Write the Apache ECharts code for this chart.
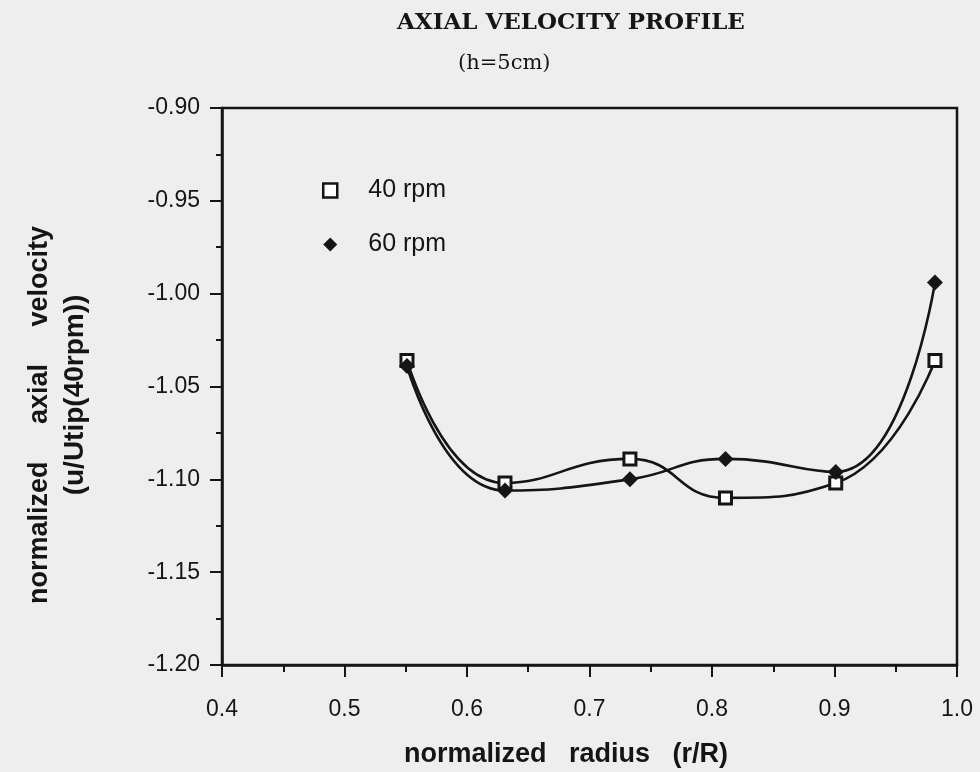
<!DOCTYPE html>
<html>
<head>
<meta charset="utf-8">
<script src="https://cdn.jsdelivr.net/npm/echarts@6/dist/echarts.min.js"></script>
<style>
  html, body { margin: 0; padding: 0; background: #eeeeee; }
  #chart { width: 980px; height: 772px; }
</style>
</head>
<body>
<div id="chart"></div>
<script>
// ---- data ----
var radius = [0.551, 0.631, 0.733, 0.811, 0.901, 0.982];
var rpm40 = [-1.036, -1.102, -1.089, -1.110, -1.102, -1.036];
var rpm60 = [-1.039, -1.106, -1.100, -1.089, -1.096, -0.994];
var seriesNames = ['40 rpm', '60 rpm'];
var xTicks = [0.4, 0.5, 0.6, 0.7, 0.8, 0.9, 1.0];
var yTicks = [-1.20, -1.15, -1.10, -1.05, -1.00, -0.95, -0.90];

function pairs(xs, ys) { return xs.map(function (x, i) { return [x, ys[i]]; }); }

var ink = '#151515';
var chart = echarts.init(document.getElementById('chart'), null, { renderer: 'canvas' });
chart.setOption({
  backgroundColor: '#eeeeee',
  animation: false,
  title: [
    { text: 'AXIAL VELOCITY PROFILE', left: 392, top: 7,
      textStyle: { fontFamily: 'DejaVu Serif', fontWeight: 'bold', fontSize: 23, color: ink } },
    { text: '(h=5cm)', left: 453, top: 48,
      textStyle: { fontFamily: 'DejaVu Serif', fontWeight: 'normal', fontSize: 21, color: ink } }
  ],
  grid: { left: 222, right: 23, top: 108, bottom: 107, show: true, borderColor: ink, borderWidth: 2.5, backgroundColor: 'transparent' },
  legend: {
    orient: 'vertical', left: 317, top: 173, itemGap: 29, itemWidth: 14, itemHeight: 14,
    textStyle: { fontFamily: 'Liberation Sans', fontSize: 25, color: ink, padding: [0, 0, 0, 26] },
    data: [
      { name: seriesNames[0], icon: 'rect', itemStyle: { color: '#ffffff', borderColor: ink, borderWidth: 2.5 } },
      { name: seriesNames[1], icon: 'diamond', itemStyle: { color: ink, borderWidth: 0 } }
    ]
  },
  xAxis: {
    type: 'value', min: xTicks[0], max: xTicks[xTicks.length - 1], interval: 0.1,
    axisLine: { show: true, lineStyle: { color: ink, width: 2.5 } },
    axisTick: { show: true, inside: false, length: 12, lineStyle: { color: ink, width: 2 } },
    minorTick: { show: true, splitNumber: 2, length: 7, lineStyle: { color: ink, width: 2 } },
    splitLine: { show: false },
    axisLabel: { margin: 33, fontFamily: 'Liberation Sans', fontSize: 23, color: ink,
      formatter: function (v) { return v.toFixed(1); } }
  },
  yAxis: {
    type: 'value', min: yTicks[0], max: yTicks[yTicks.length - 1], interval: 0.05,
    axisLine: { show: true, lineStyle: { color: ink, width: 2.5 } },
    axisTick: { show: true, inside: false, length: 12, lineStyle: { color: ink, width: 2 } },
    minorTick: { show: true, splitNumber: 2, length: 6, lineStyle: { color: ink, width: 2 } },
    splitLine: { show: false },
    axisLabel: { margin: 22, fontFamily: 'Liberation Sans', fontSize: 23, color: ink,
      formatter: function (v) { return v.toFixed(2); } }
  },
  graphic: [
    { type: 'text', x: 566, y: 755, silent: true,
      style: { text: 'normalized   radius   (r/R)', font: 'bold 27px "Liberation Sans"', fill: ink, textAlign: 'center', textVerticalAlign: 'middle' } },
    { type: 'text', x: 40, y: 415, rotation: Math.PI / 2, silent: true,
      style: { text: 'normalized     axial     velocity', font: 'bold 27px "Liberation Sans"', fill: ink, textAlign: 'center', textVerticalAlign: 'middle' } },
    { type: 'text', x: 75, y: 395, rotation: Math.PI / 2, silent: true,
      style: { text: '(u/Utip(40rpm))', font: 'bold 28px "Liberation Sans"', fill: ink, textAlign: 'center', textVerticalAlign: 'middle' } }
  ],
  series: [
    { name: seriesNames[0], type: 'line', data: pairs(radius, rpm40), smooth: 0.5,
      symbol: 'rect', symbolSize: 12, z: 3,
      lineStyle: { color: ink, width: 2.6 },
      itemStyle: { color: '#ffffff', borderColor: ink, borderWidth: 3 } },
    { name: seriesNames[1], type: 'line', data: pairs(radius, rpm60), smooth: 0.5,
      symbol: 'diamond', symbolSize: 16, z: 4,
      lineStyle: { color: ink, width: 2.6 },
      itemStyle: { color: ink, borderWidth: 0 } }
  ]
});
</script>
</body>
</html>
